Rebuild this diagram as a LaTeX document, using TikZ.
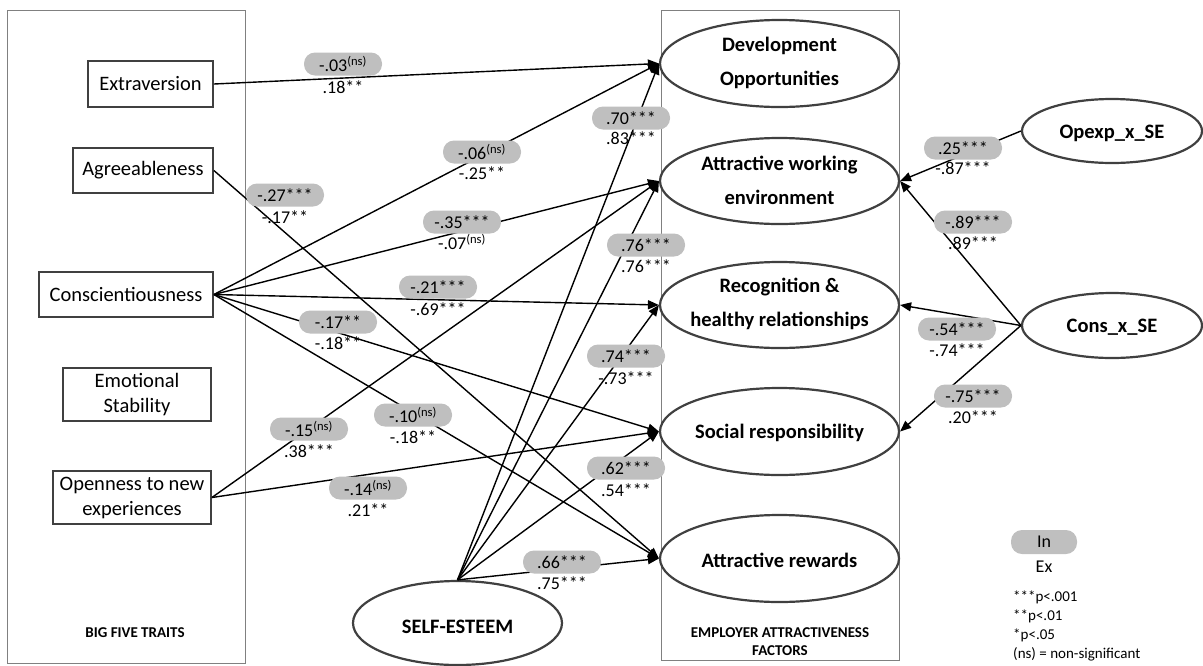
\documentclass[tikz,border=0pt]{standalone}
\usepackage{fontspec}
\setmainfont{Carlito}
\usetikzlibrary{arrows.meta,shapes.geometric}
\definecolor{pillgray}{RGB}{191,191,191}
\definecolor{boxgray}{RGB}{64,64,64}
\definecolor{ellgray}{RGB}{64,64,64}
\definecolor{framegray}{RGB}{128,128,128}
\begin{document}
\begin{tikzpicture}[x=1pt,y=-1pt,
  trait/.style={draw=boxgray,line width=1.8pt,fill=white,font=\fontsize{20.5}{25}\selectfont,align=center,inner sep=0},
  factor/.style={ellipse,draw=ellgray,line width=2.2pt,fill=white,inner sep=0},
  ftext/.style={inner sep=0,align=center,font=\fontsize{20.5}{34}\selectfont\bfseries},
  pill/.style={fill=pillgray,rounded corners=11pt,minimum width=78pt,minimum height=23pt,inner sep=0,font=\fontsize{18}{18}\selectfont},
  coef/.style={inner sep=0,font=\fontsize{18}{18}\selectfont},
  arr/.style={line width=1.4pt,-{Triangle[length=11pt,width=9pt]}},
  frame/.style={draw=framegray,line width=1pt},
  caption/.style={inner sep=0,align=center,font=\fontsize{15}{18}\selectfont\bfseries}]
\useasboundingbox (0,0) rectangle (1203,665);
% frames
\draw[frame] (7,10) rectangle (245,663);
\draw[frame] (661,10) rectangle (899,660);
\node[caption] (bigfive) at (135,633) {BIG FIVE TRAITS};
\node[caption] (eaf) at (780,642) {EMPLOYER ATTRACTIVENESS\\FACTORS};
% traits
\node[trait,minimum width=125pt,minimum height=46pt] (ext) at (150.5,84) {Extraversion};
\node[trait,minimum width=140pt,minimum height=45pt] (agr) at (143,170.5) {Agreeableness};
\node[trait,minimum width=174pt,minimum height=45pt] (con) at (126,294.5) {Conscientiousness};
\node[trait,minimum width=148pt,minimum height=53pt] (emo) at (137,394.5) {Emotional\\Stability};
\node[trait,minimum width=158pt,minimum height=53pt] (ope) at (132,497.5) {Openness to new\\experiences};
% factors
\node[factor,minimum width=239pt,minimum height=87pt] (dev) at (779.5,63.5) {};
\node[ftext] (devt) at (779.5,62.5) {Development\\Opportunities};
\node[factor,minimum width=239pt,minimum height=86pt] (env) at (779.5,181) {};
\node[ftext] (envt) at (779.5,180) {Attractive working\\environment};
\node[factor,minimum width=239pt,minimum height=86pt] (rec) at (779.5,305) {};
\node[ftext] (rect) at (779.5,304) {Recognition \&\\healthy relationships};
\node[factor,minimum width=239pt,minimum height=87pt] (soc) at (779.5,431.5) {};
\node[ftext] (soct) at (779.5,433) {Social responsibility};
\node[factor,minimum width=239pt,minimum height=87pt] (rew) at (779.5,558.5) {};
\node[ftext] (rewt) at (779.5,560) {Attractive rewards};
% self-esteem and moderators
\node[factor,minimum width=209pt,minimum height=84pt] (se) at (457.5,623) {};
\node[ftext] (set) at (457.5,627) {SELF-ESTEEM};
\node[factor,minimum width=180pt,minimum height=64pt] (opx) at (1112,131) {};
\node[ftext] (opxt) at (1112,133) {Opexp\_x\_SE};
\node[factor,minimum width=180pt,minimum height=65pt] (cox) at (1112,325.5) {};
\node[ftext] (coxt) at (1112,327) {Cons\_x\_SE};
% connectors
\draw[arr] (ext.east) -- (dev.west);
\draw[arr] (agr.east) -- (rew.west);
\draw[arr] (con.east) -- (dev.west);
\draw[arr] (con.east) -- (env.west);
\draw[arr] (con.east) -- (rec.west);
\draw[arr] (con.east) -- (soc.west);
\draw[arr] (con.east) -- (rew.west);
\draw[arr] (ope.east) -- (env.west);
\draw[arr] (ope.east) -- (soc.west);
\draw[arr] (se.north) -- (dev.west);
\draw[arr] (se.north) -- (env.west);
\draw[arr] (se.north) -- (rec.west);
\draw[arr] (se.north) -- (soc.west);
\draw[arr] (se.north) -- (rew.west);
\draw[arr] (opx.west) -- (env.east);
\draw[arr] (cox.west) -- (env.east);
\draw[arr] (cox.west) -- (rec.east);
\draw[arr] (cox.west) -- (soc.east);
% coefficient labels
\node[pill] (p1) at (343,64) {-.03\textsuperscript{(ns)}};
\node[coef] (t1) at (343,87) {.18**};
\node[pill] (p2) at (285,195) {-.27***};
\node[coef] (t2) at (285,217) {-.17**};
\node[pill] (p3) at (482,152) {-.06\textsuperscript{(ns)}};
\node[coef] (t3) at (482,173) {-.25**};
\node[pill] (p4) at (462,222) {-.35***};
\node[coef] (t4) at (462,242) {-.07\textsuperscript{(ns)}};
\node[pill] (p5) at (438,287) {-.21***};
\node[coef] (t5) at (438,309) {-.69***};
\node[pill] (p6) at (338,322) {-.17**};
\node[coef] (t6) at (338,343) {-.18**};
\node[pill] (p7) at (413,415) {-.10\textsuperscript{(ns)}};
\node[coef] (t7) at (413,437) {-.18**};
\node[pill] (p8) at (309,429) {-.15\textsuperscript{(ns)}};
\node[coef] (t8) at (309,451) {.38***};
\node[pill] (p9) at (368,488) {-.14\textsuperscript{(ns)}};
\node[coef] (t9) at (368,510) {.21**};
\node[pill] (p10) at (631,118) {.70***};
\node[coef] (t10) at (631,138) {.83***};
\node[pill] (p11) at (646,245) {.76***};
\node[coef] (t11) at (646,266) {.76***};
\node[pill] (p12) at (626,356) {.74***};
\node[coef] (t12) at (626,378) {-.73***};
\node[pill] (p13) at (626,468) {.62***};
\node[coef] (t13) at (626,490) {.54***};
\node[pill] (p14) at (562,562) {.66***};
\node[coef] (t14) at (562,583) {.75***};
\node[pill] (p15) at (963,148) {.25***};
\node[coef] (t15) at (963,168) {-.87***};
\node[pill] (p16) at (973,222) {-.89***};
\node[coef] (t16) at (973,243) {.89***};
\node[pill] (p17) at (957,329) {-.54***};
\node[coef] (t17) at (957,350) {-.74***};
\node[pill] (p18) at (973,396) {-.75***};
\node[coef] (t18) at (973,417) {.20***};
% legend
\node[pill,minimum width=66pt,minimum height=24pt] (lgin) at (1044,542) {In};
\node[coef] (lgex) at (1044,567) {Ex};
\node[inner sep=0,anchor=west,align=left,font=\fontsize{15}{19}\selectfont] (lgp) at (1013,625.5) {***p<.001\\**p<.01\\*p<.05\\(ns) = non-significant};
\end{tikzpicture}
\end{document}
